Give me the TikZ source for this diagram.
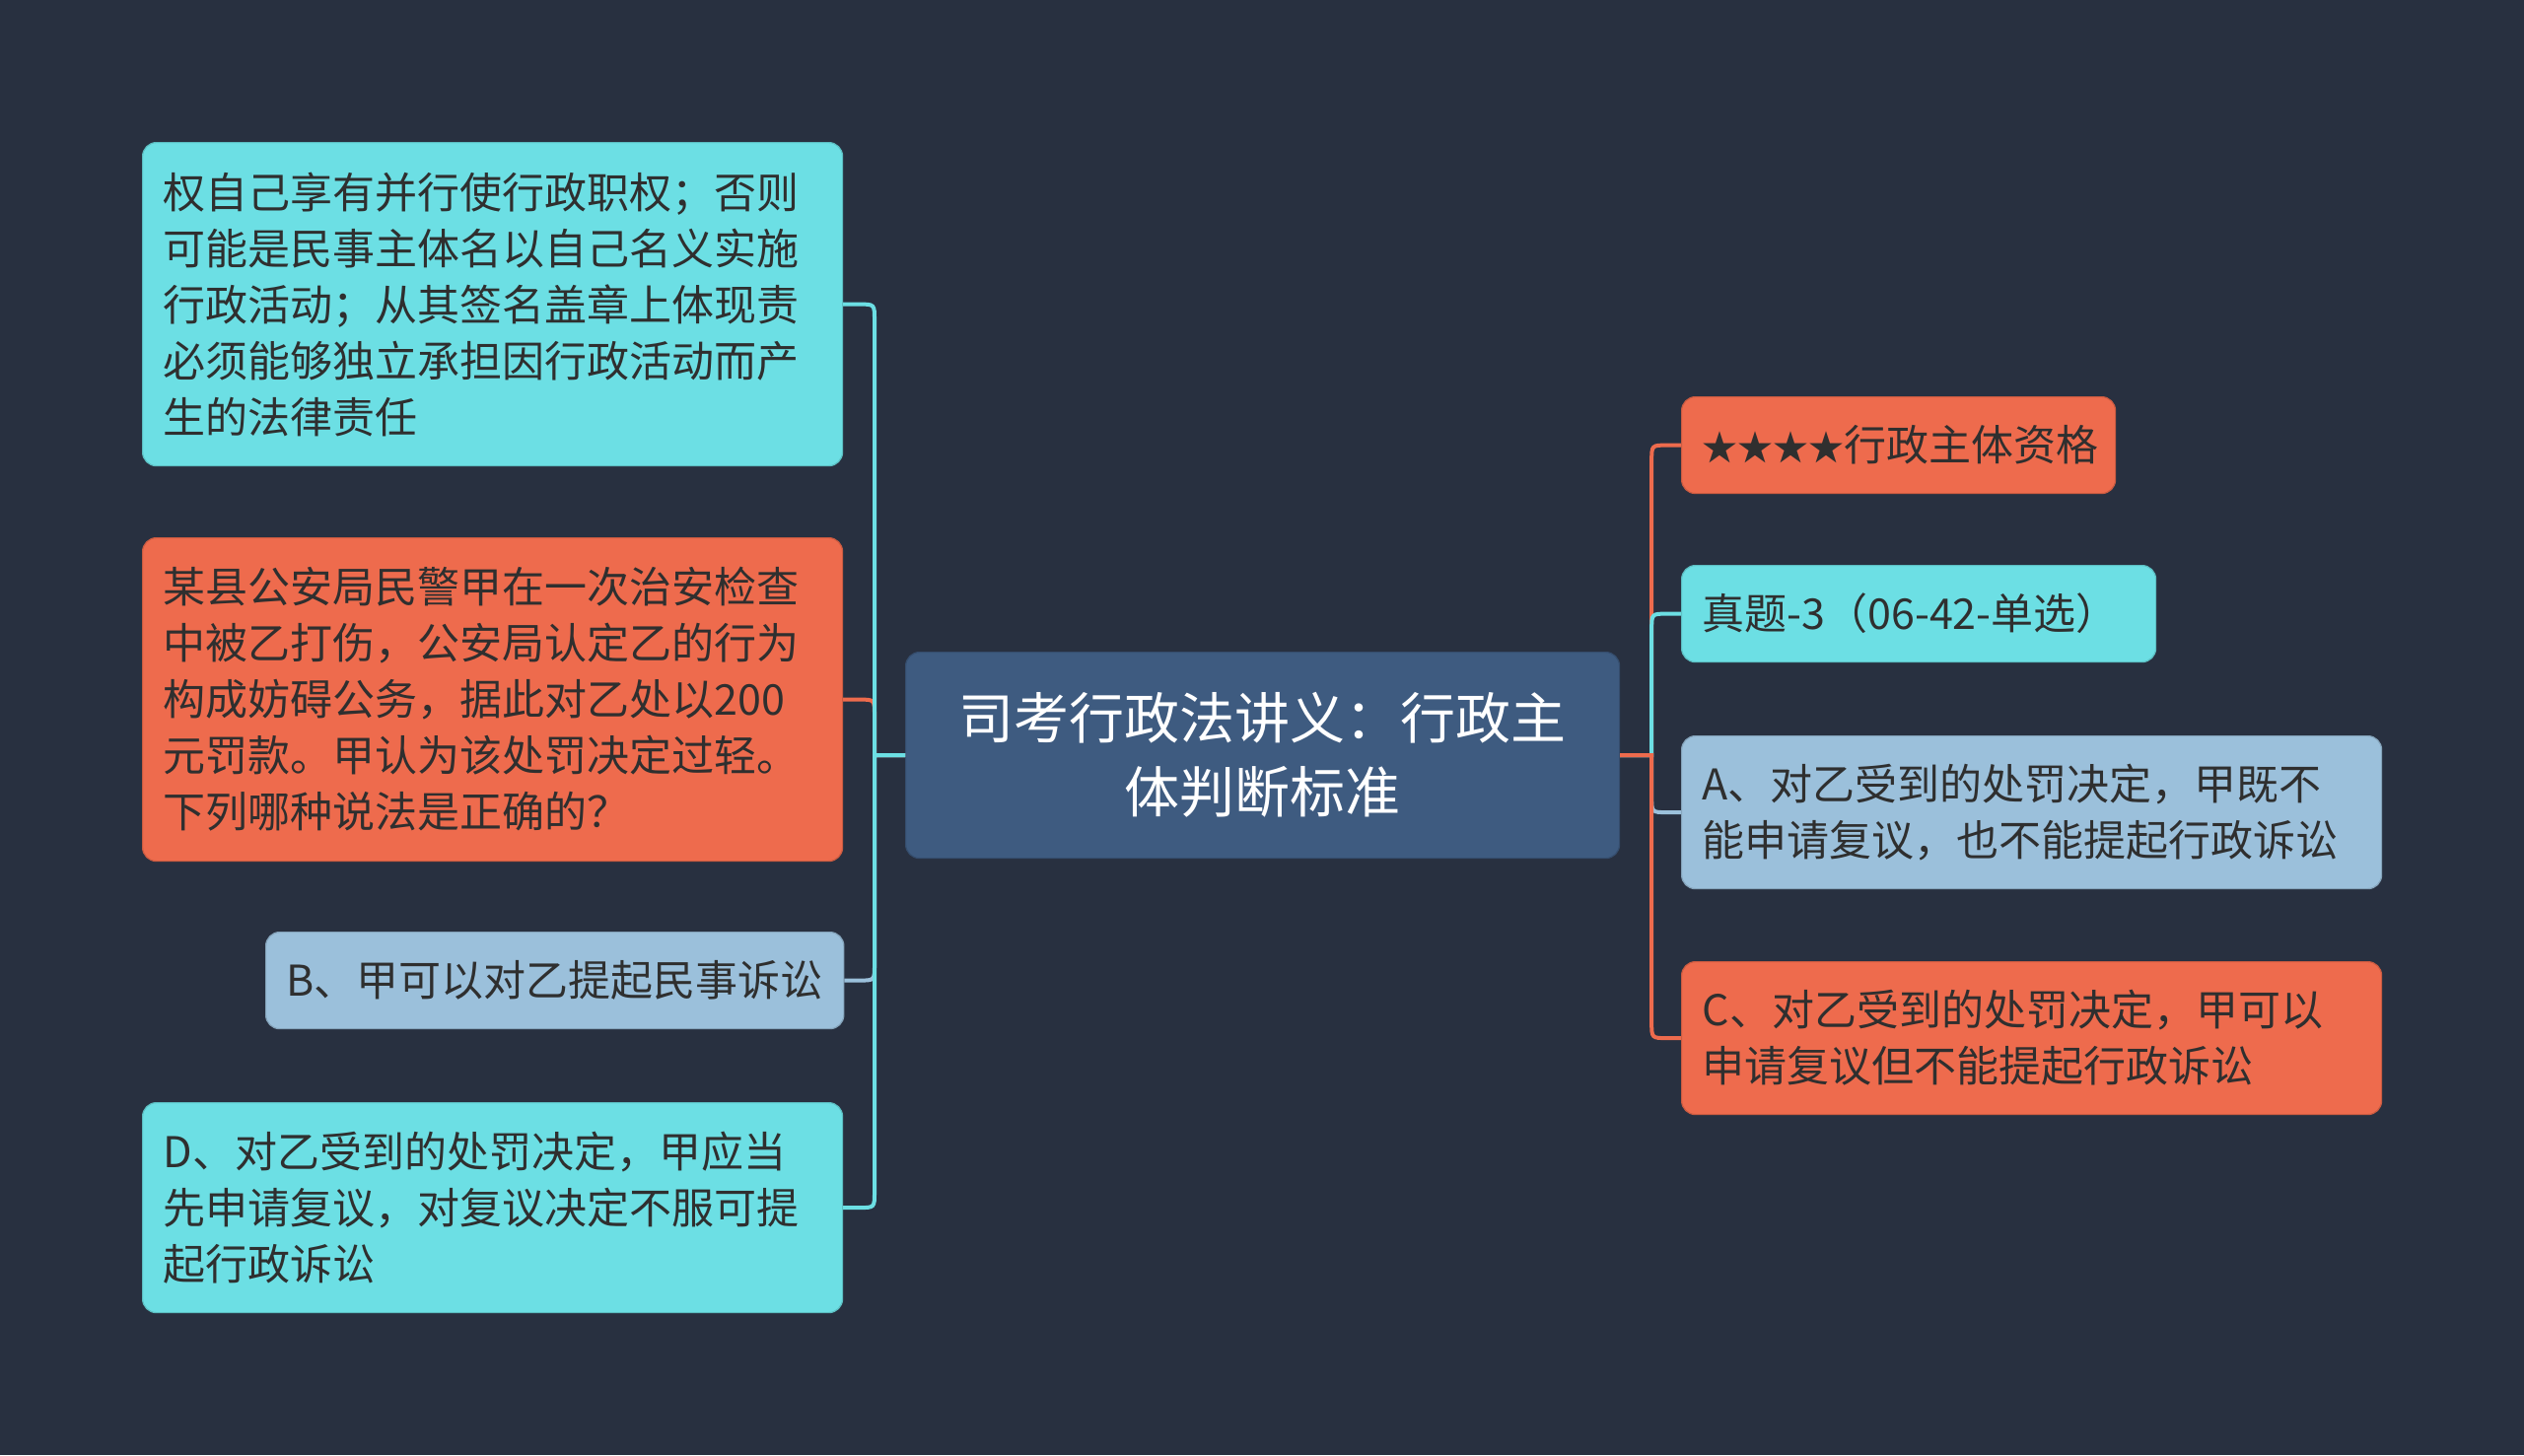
\documentclass[tikz,border=0pt]{standalone}
\usepackage{fontspec}
\setmainfont{Noto Sans CJK SC}
\usetikzlibrary{calc}
\definecolor{bg}{HTML}{283040}
\definecolor{cy}{HTML}{6CDFE4}
\definecolor{orn}{HTML}{EE6B4D}
\definecolor{lb}{HTML}{9BC0DB}
\definecolor{ctr}{HTML}{3E5B80}
\definecolor{ink}{HTML}{2F2F2F}
\begin{document}
\begin{tikzpicture}[x=1pt,y=-1pt,
  mbox/.style={rectangle, rounded corners=14pt, anchor=north west, inner xsep=21pt, inner ysep=0pt,
    align=left, text=ink, font=\fontsize{43}{57}\selectfont},
  boxc/.style={fill=#1, draw=#1!85!black, line width=1.2pt},
  conn/.style={line width=4pt, draw=#1}]
\useasboundingbox (0,0) rectangle (2560,1476);
\fill[bg] (0,0) rectangle (2560,1476);

% center
\node[mbox, boxc=ctr, text=white, align=center, font=\fontsize{56}{75}\selectfont,
  minimum width=724pt, minimum height=209pt, text width=682pt] (c) at (918,661)
  {司考行政法讲义：行政主\\体判断标准};

% left children
\node[mbox, boxc=cy, minimum height=328pt, text width=668pt] (b1) at (144,144)
  {权自己享有并行使行政职权；否则\\可能是民事主体名以自己名义实施\\行政活动；从其签名盖章上体现责\\必须能够独立承担因行政活动而产\\生的法律责任};
\node[mbox, boxc=orn, minimum height=328pt, text width=668pt] (b2) at (144,545)
  {某县公安局民警甲在一次治安检查\\中被乙打伤，公安局认定乙的行为\\构成妨碍公务，据此对乙处以200\\元罚款。甲认为该处罚决定过轻。\\下列哪种说法是正确的？};
\node[mbox, boxc=lb, minimum width=585pt, minimum height=98pt] (bb) at (269,945)
  {B、甲可以对乙提起民事诉讼};
\node[mbox, boxc=cy, minimum height=213pt, text width=668pt] (d) at (144,1118)
  {D、对乙受到的处罚决定，甲应当\\先申请复议，对复议决定不服可提\\起行政诉讼};

% right children
\node[mbox, boxc=orn, minimum height=98pt, text width=398pt] (s) at (1705,402)
  {{\fontsize{36}{57}\selectfont ★★★★}行政主体资格};
\node[mbox, boxc=cy, minimum height=98pt, text width=439pt] (z) at (1705,573)
  {真题-3（06-42-单选）};
\node[mbox, boxc=lb, minimum height=155pt, text width=668pt] (a) at (1705,746)
  {A、对乙受到的处罚决定，甲既不\\能申请复议，也不能提起行政诉讼};
\node[mbox, boxc=orn, minimum height=155pt, text width=668pt] (cc) at (1705,975)
  {C、对乙受到的处罚决定，甲可以\\申请复议但不能提起行政诉讼};

\coordinate (L) at ($(c.west)+(-31,0)$);
\coordinate (R) at ($(c.east)+(32,0)$);

% left connectors
\draw[conn=orn] (c.west) -- (L) -- ($(L|-b2.east)+(0,16)$) .. controls (L|-b2.east) .. ($(L|-b2.east)+(-16,0)$) -- (b2.east);
\draw[conn=lb] (c.west) -- (L) -- ($(L|-bb.east)+(0,-16)$) .. controls (L|-bb.east) .. ($(L|-bb.east)+(-16,0)$) -- (bb.east);
\draw[conn=cy] (c.west) -- (L) -- ($(L|-b1.east)+(0,16)$) .. controls (L|-b1.east) .. ($(L|-b1.east)+(-16,0)$) -- (b1.east);
\draw[conn=cy] (c.west) -- (L) -- ($(L|-d.east)+(0,-16)$) .. controls (L|-d.east) .. ($(L|-d.east)+(-16,0)$) -- (d.east);

% right connectors
\draw[conn=orn] (c.east) -- (R) -- ($(R|-s.west)+(0,16)$) .. controls (R|-s.west) .. ($(R|-s.west)+(16,0)$) -- (s.west);
\draw[conn=cy] (c.east) -- (R) -- ($(R|-z.west)+(0,16)$) .. controls (R|-z.west) .. ($(R|-z.west)+(16,0)$) -- (z.west);
\draw[conn=lb] (c.east) -- (R) -- ($(R|-a.west)+(0,-16)$) .. controls (R|-a.west) .. ($(R|-a.west)+(16,0)$) -- (a.west);
\draw[conn=orn] (c.east) -- (R) -- ($(R|-cc.west)+(0,-16)$) .. controls (R|-cc.west) .. ($(R|-cc.west)+(16,0)$) -- (cc.west);
\end{tikzpicture}
\end{document}
